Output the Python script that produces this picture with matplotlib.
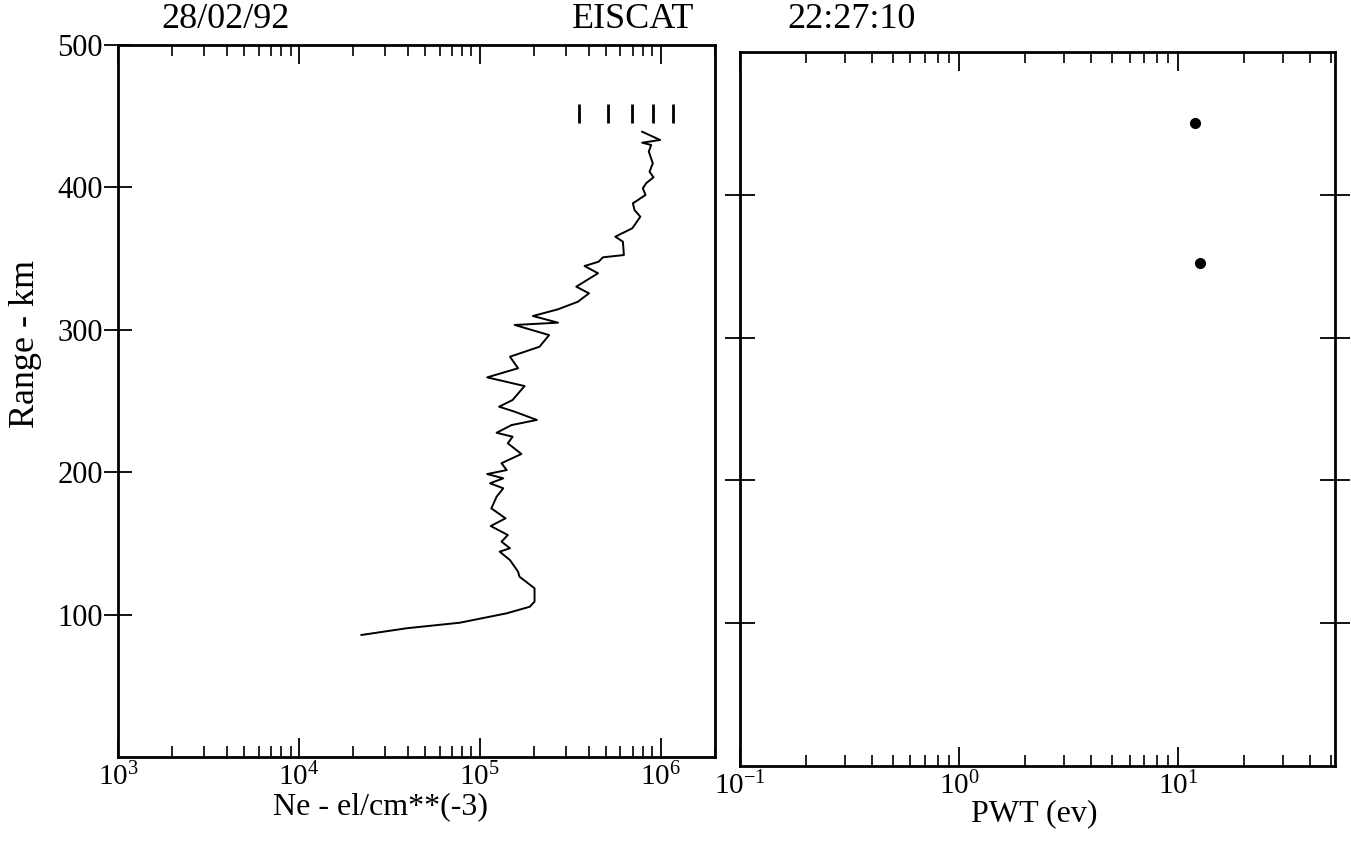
import matplotlib
matplotlib.use("Agg")
import matplotlib.pyplot as plt
from matplotlib.ticker import LogLocator, FixedLocator, NullFormatter, FuncFormatter
import numpy as np

plt.rcParams['font.family'] = ['Liberation Serif', 'DejaVu Serif']
plt.rcParams['mathtext.fontset'] = 'custom'
plt.rcParams['mathtext.rm'] = 'Liberation Serif'
plt.rcParams['mathtext.it'] = 'Liberation Serif:italic'

# ---- data ----
range_km = [85.7, 90.4, 94.3, 100.9, 105.5, 109.1, 118.5, 126.6, 130.1, 138.3,
            144.2, 146.6, 151.2, 155.9, 162.2, 167.6, 174.6, 182.8, 188.7, 192.2,
            195.7, 198.7, 201.5, 206.3, 212.8, 220.3, 224.9, 227.7, 233.1, 236.7,
            242.5, 246.0, 250.7, 260.5, 266.6, 273.0, 281.1, 288.1, 296.3, 303.4,
            305.0, 309.7, 314.4, 319.7, 325.6, 330.3, 339.7, 344.8, 347.8, 350.9,
            352.5, 361.9, 365.4, 371.3, 379.4, 384.1, 388.8, 394.7, 399.4, 402.9,
            407.1, 411.0, 416.9, 425.1, 429.8, 431.4, 433.3, 439.1]
ne = [2.22e4, 3.94e4, 7.76e4, 1.41e5, 1.89e5, 2.01e5, 2.01e5, 1.66e5, 1.63e5, 1.47e5,
      1.29e5, 1.47e5, 1.32e5, 1.43e5, 1.15e5, 1.39e5, 1.16e5, 1.24e5, 1.35e5, 1.14e5,
      1.35e5, 1.10e5, 1.41e5, 1.32e5, 1.70e5, 1.43e5, 1.52e5, 1.24e5, 1.50e5, 2.07e5,
      1.56e5, 1.28e5, 1.52e5, 1.77e5, 1.10e5, 1.63e5, 1.47e5, 2.14e5, 2.42e5, 1.56e5,
      2.71e5, 1.97e5, 2.71e5, 3.49e5, 4.02e5, 3.42e5, 4.51e5, 3.80e5, 4.54e5, 4.80e5,
      6.27e5, 6.19e5, 5.62e5, 6.98e5, 7.73e5, 7.18e5, 7.03e5, 8.26e5, 7.98e5, 8.32e5,
      9.14e5, 8.69e5, 9.06e5, 8.61e5, 8.87e5, 7.91e5, 9.95e5, 7.91e5]

marker_ne = [3.54e5, 5.11e5, 6.98e5, 9.14e5, 1.175e6]
marker_range = [445.0, 458.6]

pwt_range = [450, 352]
pwt = [12.0, 12.6]

y_ticks = [100, 200, 300, 400]
y_labels = ['100', '200', '300', '400']

title_left = '28/02/92'
title_mid = 'EISCAT'
title_right = '22:27:10'

# ---- figure ----
fig = plt.figure(figsize=(13.51, 8.51), dpi=100)
W, H = 1351, 851
ax1 = fig.add_axes([118 / W, 1 - 757 / H, (715 - 118) / W, (757 - 45) / H])
ax2 = fig.add_axes([740 / W, 1 - 766 / H, (1335 - 740) / W, (766 - 52) / H])

lw_sp = 2.0


def logfmt(v, pos):
    e = int(round(np.log10(v)))
    return r'$\mathregular{10^{%d}}$' % e


for ax in (ax1, ax2):
    ax.set_xscale('log')
    ax.set_ylim(0, 500)
    for s in ax.spines.values():
        s.set_linewidth(lw_sp)
    ax.xaxis.set_major_locator(LogLocator(base=10, numticks=20))
    ax.xaxis.set_minor_locator(LogLocator(base=10, subs=np.arange(2, 10), numticks=20))
    ax.xaxis.set_major_formatter(FuncFormatter(logfmt))
    ax.xaxis.set_minor_formatter(NullFormatter())
    ax.tick_params(axis='x', which='major', direction='in', top=True, bottom=True,
                   length=14, width=1.3, labelsize=21, pad=4)
    ax.tick_params(axis='x', which='minor', direction='in', top=True, bottom=True,
                   length=8, width=1.2)
    ax.yaxis.set_major_locator(FixedLocator(y_ticks))

ax1.set_xlim(1e3, 2e6)
ax2.set_xlim(1e-1, 52)

# left panel content
ax1.plot(ne, range_km, color='black', lw=1.4)
ax1.vlines(marker_ne, marker_range[0], marker_range[1], color='black', lw=2.0)
ax1.set_yticks(y_ticks + [500])
ax1.set_yticklabels(y_labels + ['500'])
ax1.tick_params(axis='y', which='major', direction='inout', left=True, right=False,
                length=20, width=1.3, labelsize=22, pad=1)
ax1.set_xlabel('Ne - el/cm**(-3)', fontsize=23)
ax1.xaxis.set_label_coords(0.44, -0.049)
ax1.set_ylabel('Range - km', fontsize=26)
ax1.yaxis.set_label_coords(-0.127, 0.58)

# right panel content
ax2.plot(pwt, pwt_range, 'o', color='black', ms=7)
ax2.tick_params(axis='y', which='major', direction='inout', left=True, right=True,
                length=22, width=1.3, labelleft=False)
ax2.set_xlabel('PWT (ev)', fontsize=23)
ax2.xaxis.set_label_coords(0.495, -0.046)

# titles
fig.text(226 / W, 1 - 19 / H, title_left, fontsize=26, ha='center', va='center')
fig.text(633 / W, 1 - 19 / H, title_mid, fontsize=26, ha='center', va='center')
fig.text(852 / W, 1 - 19 / H, title_right, fontsize=26, ha='center', va='center')

fig.savefig('out.png', dpi=100)
